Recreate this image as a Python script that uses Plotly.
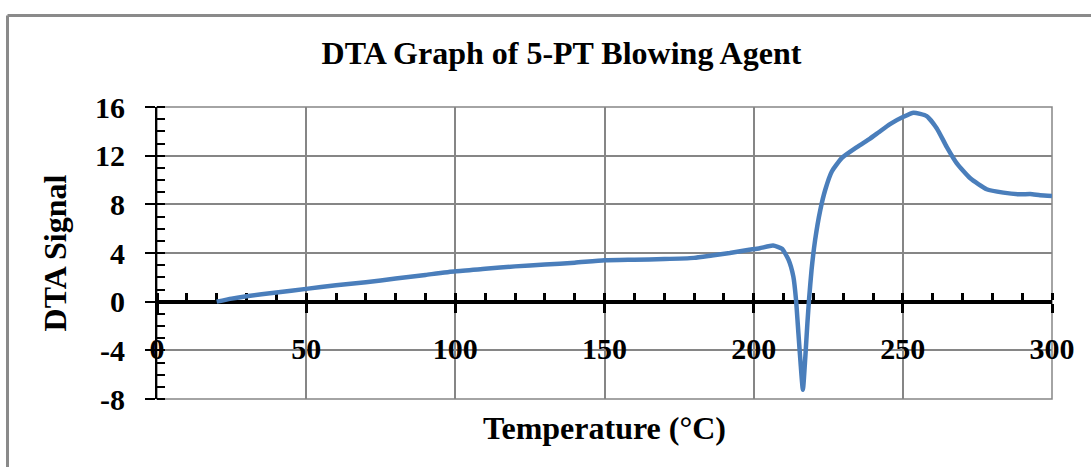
import plotly.graph_objects as go

# ---- data ----
temperature = [20, 25, 30, 40, 50, 60, 70, 80, 90, 100, 110, 120, 130, 140, 150,
               160, 170, 180, 186, 192, 198, 202, 206.5, 209.5, 211.7, 213.3, 214.2,
               215.0, 215.8, 216.5, 217.3, 218.0, 218.6, 219.4, 220.6, 222.3, 224.0,
               226.2, 229.5, 234.6, 239.0, 241.8, 245.7, 250.2, 253.6, 258.0, 261.4,
               264.7, 268.1, 272.6, 278.1, 283.7, 289.3, 292.7, 296.0, 300.0]
dta_signal = [0.0, 0.25, 0.45, 0.75, 1.05, 1.35, 1.6, 1.9, 2.2, 2.5, 2.7, 2.9, 3.05, 3.2, 3.4,
              3.45, 3.5, 3.6, 3.8, 4.0, 4.25, 4.39, 4.62, 4.35, 3.43, 2.06, 0.15,
              -2.6, -5.3, -7.24, -4.6, -1.8, 0.3, 2.6, 5.07, 7.5, 9.2,
              10.7, 11.8, 12.7, 13.4, 13.9, 14.6, 15.2, 15.53, 15.25, 14.24,
              12.73, 11.37, 10.14, 9.24, 8.96, 8.82, 8.85, 8.75, 8.69]

x_range = [0, 300]
y_range = [-8, 16]
x_major = 50
x_minor = 10
y_minor = 1
y_tickvals = [-8, -4, 0, 4, 8, 12, 16]
y_ticktext = ["-8", "-4", "0", "4", "8", "12", "16"]

title_text = "DTA Graph of 5-PT Blowing Agent"
x_title = "Temperature (°C)"
y_title = "DTA Signal"

FONT = "Liberation Serif, Times New Roman, serif"
GRID = "#868686"

W, H = 1091, 467
ml, mr, mt, mb = 157, 39, 107, 68

zero_pos = (0 - y_range[0]) / (y_range[1] - y_range[0])

fig = go.Figure()
fig.add_trace(go.Scatter(
    x=temperature, y=dta_signal, mode="lines",
    line=dict(color="#4A7EBB", width=4.5, shape="spline", smoothing=0.5),
    showlegend=False, hoverinfo="x+y",
))

fig.update_layout(
    width=W, height=H,
    margin=dict(l=ml, r=mr, t=mt, b=mb, autoexpand=False),
    paper_bgcolor="white", plot_bgcolor="white",
    font=dict(family=FONT, color="black"),
    title=dict(text="<b>" + title_text + "</b>", x=561.5 / W, xref="container",
               xanchor="center", y=1 - 53 / H, yref="container", yanchor="middle",
               font=dict(family=FONT, size=32, color="black")),
    xaxis=dict(
        range=x_range, tick0=0, dtick=x_major,
        anchor="free", position=zero_pos,
        showgrid=True, gridcolor=GRID, gridwidth=1.5,
        zeroline=False,
        showline=True, linecolor="black", linewidth=4,
        ticks="outside", ticklen=9, tickwidth=3, tickcolor="black",
        minor=dict(dtick=x_minor, ticks="inside", ticklen=7, tickwidth=3,
                   tickcolor="black", showgrid=False),
        tickfont=dict(family=FONT, size=30, color="black", weight="bold"),
        ticklabelstandoff=10,
        layer="below traces",
        title=dict(text="<b>" + x_title + "</b>", standoff=52,
                   font=dict(family=FONT, size=32, color="black")),
    ),
    yaxis=dict(
        range=y_range, tickmode="array", tickvals=y_tickvals, ticktext=y_ticktext,
        showgrid=True, gridcolor=GRID, gridwidth=1.5,
        zeroline=False,
        showline=True, linecolor="black", linewidth=2,
        ticks="outside", ticklen=10, tickwidth=2, tickcolor="black",
        minor=dict(dtick=y_minor, tick0=0, ticks="inside", ticklen=8, tickwidth=1.5,
                   tickcolor="black", showgrid=False),
        tickfont=dict(family=FONT, size=30, color="black", weight="bold"),
        ticklabelstandoff=14,
        layer="below traces",
        title=dict(text="<b>" + y_title + "</b>", standoff=19,
                   font=dict(family=FONT, size=32, color="black")),
    ),
    xaxis2=dict(
        range=x_range, tick0=0, dtick=x_major, overlaying="x",
        anchor="free", position=zero_pos,
        showgrid=False, zeroline=False, showline=False,
        ticks="inside", ticklen=9, tickwidth=3, tickcolor="black",
        showticklabels=False, layer="below traces",
    ),
    yaxis2=dict(
        range=y_range, tickmode="array", tickvals=y_tickvals, overlaying="y",
        anchor="x", side="left",
        showgrid=False, zeroline=False, showline=False,
        ticks="inside", ticklen=10, tickwidth=2, tickcolor="black",
        showticklabels=False, layer="below traces",
    ),
    shapes=[
        dict(type="rect", xref="paper", yref="paper", x0=0, x1=1, y0=0, y1=1,
             line=dict(color=GRID, width=1.5), layer="below"),
        dict(type="line", xref="paper", yref="paper",
             x0=(7.5 - ml) / (W - ml - mr), x1=(7.5 - ml) / (W - ml - mr),
             y0=(H - mb - 15.5) / (H - mt - mb), y1=-1,
             line=dict(color="#8a8a8a", width=3)),
        dict(type="line", xref="paper", yref="paper",
             x0=(7.5 - ml) / (W - ml - mr), x1=2,
             y0=(H - mb - 15.5) / (H - mt - mb), y1=(H - mb - 15.5) / (H - mt - mb),
             line=dict(color="#8a8a8a", width=3)),
    ],
)

fig.write_html("out.html")
